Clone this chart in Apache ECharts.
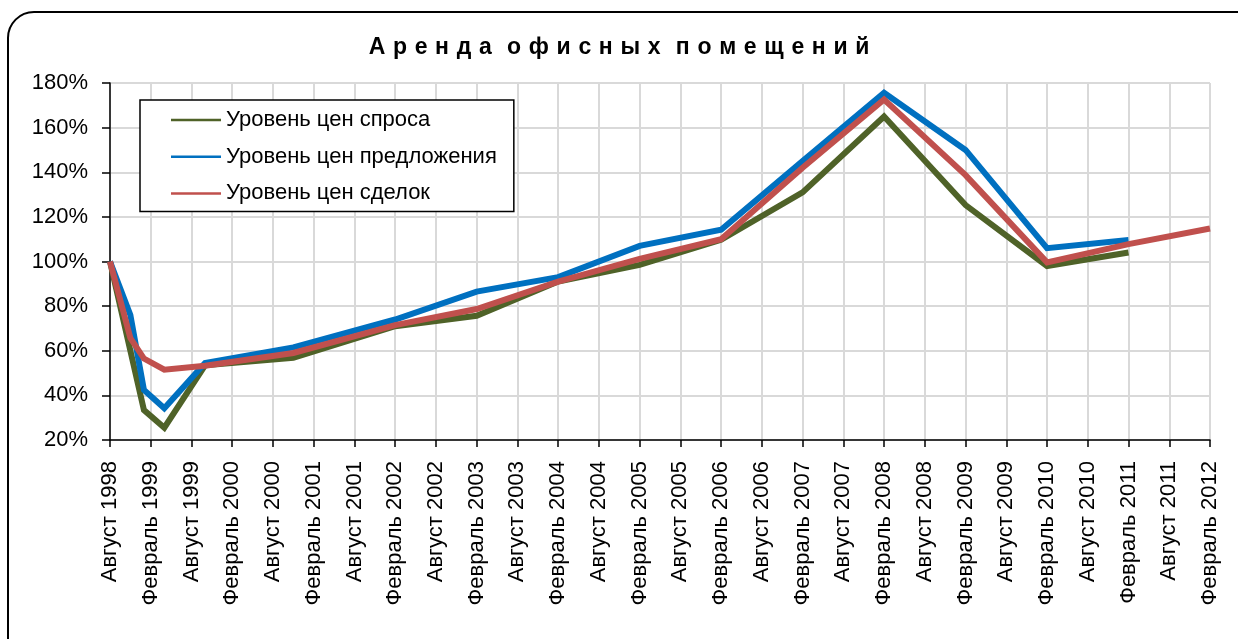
<!DOCTYPE html>
<html>
<head>
<meta charset="utf-8">
<title>Аренда офисных помещений</title>
<script src="https://cdn.jsdelivr.net/npm/echarts@6/dist/echarts.min.js"></script>
<style>
  html, body { margin: 0; padding: 0; background: #fff; }
  #chart { width: 1238px; height: 639px; }
</style>
</head>
<body>
<div id="chart"></div>
<script>
// Half-year tick labels, from August 1998 to February 2012
const tickLabels = [
  'Август 1998', 'Февраль 1999', 'Август 1999', 'Февраль 2000', 'Август 2000',
  'Февраль 2001', 'Август 2001', 'Февраль 2002', 'Август 2002', 'Февраль 2003',
  'Август 2003', 'Февраль 2004', 'Август 2004', 'Февраль 2005', 'Август 2005',
  'Февраль 2006', 'Август 2006', 'Февраль 2007', 'Август 2007', 'Февраль 2008',
  'Август 2008', 'Февраль 2009', 'Август 2009', 'Февраль 2010', 'Август 2010',
  'Февраль 2011', 'Август 2011', 'Февраль 2012'
];

// Observation dates, in months since August 1998
const months = [0, 3, 5, 8, 14, 27, 42, 54, 66, 78, 90, 102, 114, 126, 138, 150, 162];

// Price levels, % of August 1998 (null = no observation)
const demand = [100, null, 33.4, 25.5, 53.5, 56.8, 71, 75.7, 91, 98.5, 109.7, 131, 165, 125.3, 98, 104, null];
const offer  = [100, 76, 42.4, 34.2, 54.5, 61.5, 74, 86.5, 93, 107, 114.2, 145, 175.6, 150, 106, 109.6, null];
const deals  = [100, 65.7, 56.5, 51.5, 53.3, 59, 71.5, 78.7, 91, 101.2, 110, 142, 172.6, 138.7, 99.6, 107.8, 114.8];

const seriesNames = ['Уровень цен спроса', 'Уровень цен предложения', 'Уровень цен сделок'];
const seriesColors = ['#4F6228', '#0070C0', '#C0504D'];

const chartTitle = 'Аренда офисных помещений';

// Spread the title letters apart: a narrow space between letters, two between words
function spaced(text) {
  return text.split(' ').map(w => w.split('').join('\u2004')).join('\u2004\u2004');
}

function pairs(values) {
  const out = [];
  values.forEach((v, i) => { if (v !== null) out.push([months[i], v]); });
  return out;
}

const chart = echarts.init(document.getElementById('chart'), null, { renderer: 'canvas' });
const font = 'Liberation Sans, Arial, sans-serif';

chart.setOption({
  animation: false,
  backgroundColor: '#fff',
  textStyle: { fontFamily: font, color: '#000' },
  title: {
    text: spaced(chartTitle),
    left: 'center',
    top: 36,
    padding: 0,
    textStyle: { fontFamily: font, fontSize: 23, fontWeight: 'bold', color: '#000' }
  },
  graphic: [{
    type: 'rect',
    shape: { x: 8, y: 12, width: 1262, height: 680, r: 26 },
    style: { fill: 'none', stroke: '#000', lineWidth: 2 },
    z: 100
  }],
  legend: {
    orient: 'vertical',
    left: 140,
    top: 100,
    padding: [9, 17, 7, 31],
    icon: 'rect',
    itemWidth: 50,
    itemHeight: 2.5,
    itemGap: 14.7,
    backgroundColor: '#fff',
    borderColor: '#000',
    borderWidth: 1.5,
    textStyle: { fontFamily: font, fontSize: 22, color: '#000', lineHeight: 22 },
    data: seriesNames
  },
  grid: { left: 110, right: 28, top: 83, bottom: 199, containLabel: false },
  xAxis: {
    type: 'value',
    min: 0,
    max: 162,
    interval: 6,
    axisLine: { show: true, lineStyle: { color: '#000', width: 1.5 } },
    axisTick: { show: true, length: 7, lineStyle: { color: '#000', width: 1.5 } },
    axisLabel: {
      rotate: 90,
      margin: 21,
      fontFamily: font,
      fontSize: 22,
      color: '#000',
      formatter: v => tickLabels[Math.round(v / 6)] || ''
    },
    splitLine: { show: true, lineStyle: { color: '#D9D9D9', width: 2 } }
  },
  yAxis: {
    type: 'value',
    min: 20,
    max: 180,
    interval: 20,
    axisLine: { show: true, lineStyle: { color: '#000', width: 1.5 } },
    axisTick: { show: true, length: 8, lineStyle: { color: '#000', width: 1.5 } },
    axisLabel: {
      margin: 22,
      fontFamily: font,
      fontSize: 22,
      color: '#000',
      formatter: '{value}%'
    },
    splitLine: { show: true, lineStyle: { color: '#D9D9D9', width: 2 } }
  },
  series: [demand, offer, deals].map((vals, i) => ({
    name: seriesNames[i],
    type: 'line',
    data: pairs(vals),
    showSymbol: false,
    symbol: 'none',
    color: seriesColors[i],
    lineStyle: { color: seriesColors[i], width: 6, join: 'miter' },
    z: 2 + i
  }))
});
</script>
</body>
</html>
